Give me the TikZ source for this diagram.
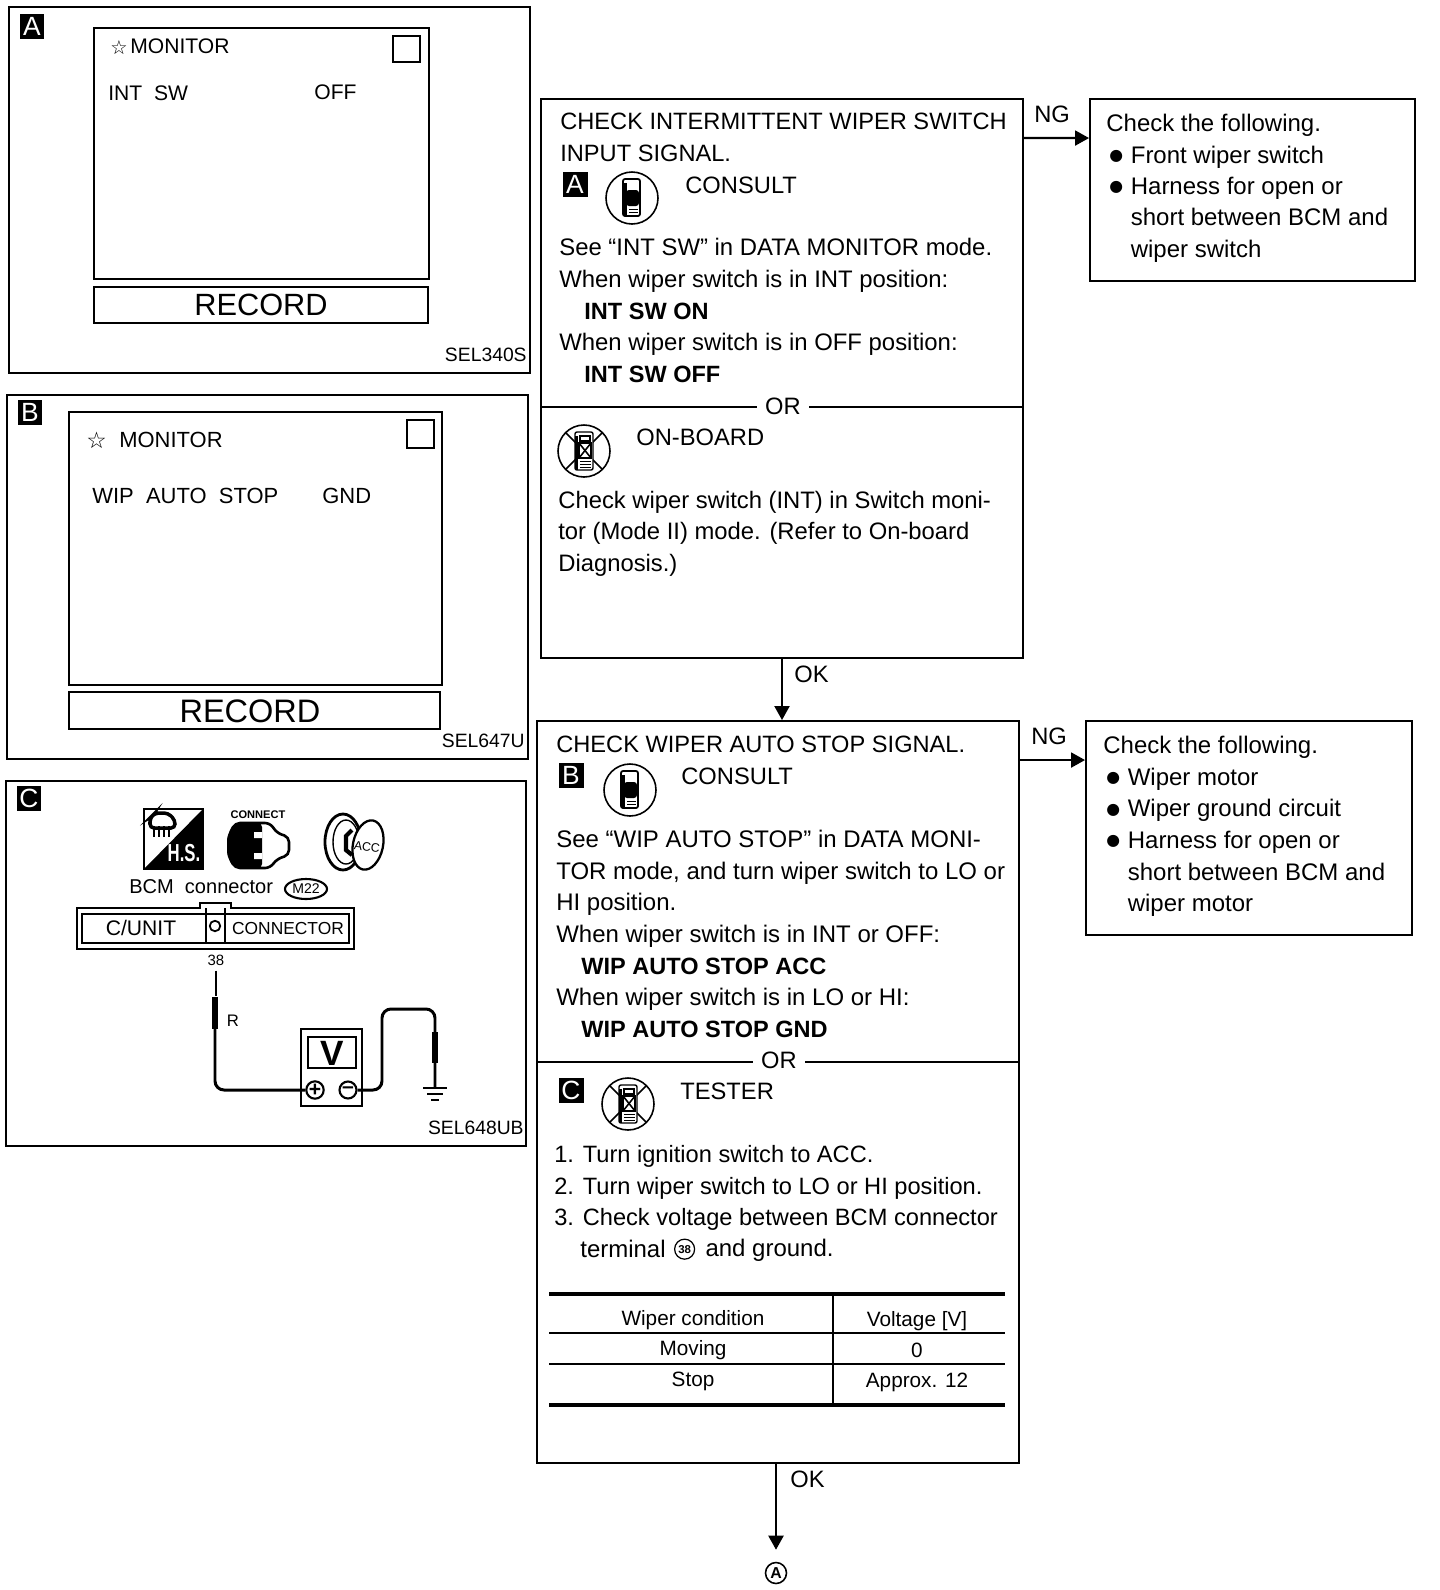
\documentclass[tikz,border=0pt]{standalone}
\usepackage{fontspec}
\setmainfont{Liberation Sans}
\newfontfamily\symfont{DejaVu Sans}
\usetikzlibrary{positioning,arrows.meta,calc,fit,shapes.geometric}
\tikzset{
  boxline/.style={draw=black,line width=1.1pt,inner sep=0pt,fill=white},
  thinbox/.style={draw=black,line width=0.8pt,inner sep=0pt},
  heavybox/.style={draw=black,line width=1.5pt,inner sep=0pt},
  txt/.style={anchor=north west,inner sep=0pt,align=left,font=\fontsize{13.65}{17.85}\selectfont},
  lbl/.style={anchor=west,inner sep=0pt,font=\fontsize{13.5}{16}\selectfont},
  scr/.style={anchor=west,inner sep=0pt,font=\fontsize{12}{14}\selectfont},
  scrb/.style={anchor=west,inner sep=0pt,font=\fontsize{12.5}{14}\selectfont},
  tbl/.style={inner sep=0pt,font=\fontsize{11.8}{13}\selectfont},
  code/.style={anchor=east,inner sep=0pt,font=\fontsize{11}{13}\selectfont},
  flow/.style={line width=1.2pt,-{Triangle[length=0.28cm,width=0.3cm]}},
  rec/.style={inner sep=0pt,font=\fontsize{18.5}{20}\selectfont},
  wire/.style={line width=1.7pt,rounded corners=0.18cm},
  probe/.style={line width=3.8pt},
}
\newcommand{\boxnode}[6][boxline]{%
  \coordinate (#2-a) at (#3,#4);
  \coordinate (#2-b) at (#5,#6);
  \node[#1,fit=(#2-a)(#2-b)] (#2) {};
}
\newcommand{\badge}[4]{%
  \node[fill=black,text=white,minimum size=0.5cm,inner sep=0pt,font=\fontsize{15}{15}\selectfont] (#1) at (#2,#3) {#4};
}
\newcommand{\bul}{\makebox[0.49cm][l]{\hspace{0.06cm}\raisebox{1.6pt}{\fontsize{9}{9}\symfont ●}}}
\newcommand{\boldline}[1]{\hspace*{0.5cm}{\fontsize{13.4}{18}\selectfont\bfseries #1}}
\newcommand{\consulticon}[2]{%
  \begin{scope}[shift={(#1,#2)}]
    \draw[line width=0.9pt] (0,0) circle (26);
    \draw[line width=1pt,rounded corners=0.04cm] (-9,-19) -- (8,-19) -- (8,18) -- (-9,18) -- cycle;
    \fill (-9,-15) rectangle (-5,18);
    \fill[rounded corners=0.06cm] (-6,-8) rectangle (7,8);
    \foreach \l in {11,14} {\draw[line width=0.5pt] (-3,\l) -- (6,\l);}
  \end{scope}
}
\newcommand{\crossedicon}[2]{%
  \begin{scope}[shift={(#1,#2)}]
    \draw[line width=0.9pt] (0,0) circle (26);
    \draw[line width=0.9pt] (-18.4,-18.4) -- (18.4,18.4);
    \draw[line width=0.9pt] (18.4,-18.4) -- (-18.4,18.4);
    \draw[line width=0.8pt,fill=white,rounded corners=0.04cm] (-9,-19) -- (9,-19) -- (9,19) -- (-9,19) -- cycle;
    \fill (-9,-15) rectangle (-6,19);
    \draw[line width=0.6pt] (-4,-15) rectangle (6,-10);
    \draw[line width=0.7pt] (-5,-8) rectangle (7,7);
    \draw[line width=0.9pt] (-5,-8) -- (7,7) (7,-8) -- (-5,7);
    \foreach \l in {10,13,16} {\draw[line width=0.5pt] (-4,\l) -- (7,\l);}
  \end{scope}
}
\begin{document}
\begin{tikzpicture}[x=0.02cm,y=-0.02cm]
  \path[use as bounding box] (0,0) rectangle (1440,1590);
  % panel A
  \boxnode{panela}{9}{7}{530}{373}
  \badge{bdga}{32}{26}{A}
  \boxnode[thinbox]{scra}{94}{28}{429}{279}
  \boxnode[thinbox]{reca}{94}{287}{428}{323}
  \boxnode{sqa}{393}{36}{420}{62}
  \node[rec,font=\fontsize{17.5}{20}\selectfont] (recta) at (261,305) {RECORD};
  \node[scr,font=\fontsize{11}{14}\symfont] (stara) at (110,48) {☆};
  \node[scr] (mona) at (130,46) {MONITOR};
  \node[scr] (intsw) at (108,93) {INT\ \ SW};
  \node[scr] (offa) at (314,92) {OFF};
  \node[code] (sela) at (527,355) {SEL340S};
  % panel B
  \boxnode{panelb}{7}{395}{528}{759}
  \badge{bdgb}{30}{412}{B}
  \boxnode[heavybox]{scrb}{69}{412}{442}{685}
  \boxnode[heavybox]{recb}{69}{692}{440}{729}
  \boxnode{sqb}{407}{420}{434}{448}
  \node[rec] (rectb) at (250,711) {RECORD};
  \node[scr,font=\fontsize{13}{14}\symfont] (starb) at (86,440) {☆};
  \node[scrb] (monb) at (119,440) {MONITOR};
  \node[scrb] (wipst) at (92,496) {WIP\ \ AUTO\ \ STOP};
  \node[scrb] (gndb) at (322,496) {GND};
  \node[code] (selb) at (525,741) {SEL647U};
  % panel C
  \boxnode{panelc}{6}{781}{526}{1146}
  \badge{bdgc}{29}{798}{C}
  % hs icon
  \draw[line width=0.9pt] (144,809) rectangle (203,869);
  \fill (203,809) -- (203,869) -- (144,869) -- cycle;
  \draw[line width=2pt,rounded corners=0.08cm] (150,818) -- (155,813) -- (168,813) -- (175,820) -- (175,828) -- (150,828) -- cycle;
  \foreach \l in {154,159,164,169} {\draw[line width=1pt] (\l,826) -- (\l,837);}
  \node[inner sep=0pt,text=white,font=\fontsize{14}{14}\bfseries\selectfont] (hstxt) at (184,853) {\scalebox{0.68}[1]{H.S.}};
  % connect icon
  \node[inner sep=0pt,font=\fontsize{6.3}{7}\bfseries\selectfont] (cnct) at (258,815) {CONNECT};
  \draw[line width=1.5pt,fill=white,rounded corners=0.1cm] (229,835) -- (235,823) -- (270,823) -- (277,833) -- (289,837) -- (289,855) -- (277,859) -- (270,868) -- (235,868) -- (229,857) -- cycle;
  \fill[rounded corners=0.08cm] (227,836) -- (235,823) -- (262,823) -- (262,868) -- (235,868) -- (227,856) -- cycle;
  \fill[white] (254,832) rectangle (262,838) (254,853) rectangle (262,859);
  % key icon
  \draw[line width=1.6pt] (343,842) ellipse (18 and 28);
  \draw[line width=0.8pt] (346,842) ellipse (13 and 22);
  \draw[line width=2.4pt] (352,830) -- (346,836) -- (346,850) -- (352,855);
  \draw[line width=1.3pt,fill=white,rotate around={-12:(368,845)}] (368,845) ellipse (15 and 25);
  \node[inner sep=0pt,rotate=-8,font=\fontsize{7}{9}\selectfont] (acckey) at (367,847) {ACC};
  % bcm connector
  \node[lbl,font=\fontsize{11.4}{13}\selectfont] (bcm) at (129,887) {BCM\ \ connector};
  \node[ellipse,draw,line width=1.2pt,inner sep=0pt,minimum width=0.84cm,minimum height=0.4cm,font=\fontsize{8}{9}\selectfont] (mconn) at (306,889) {M22};
  \draw[line width=1.4pt] (77,908) -- (200,908) -- (200,903) -- (231,903) -- (231,908) -- (354,908) -- (354,949) -- (77,949) -- cycle;
  \boxnode[heavybox]{inner}{82}{914}{349}{943}
  \draw[line width=1.6pt] (206,908) -- (206,943) (225,908) -- (225,943);
  \node[circle,draw,line width=1pt,minimum size=0.21cm,inner sep=0pt] (pinc) at (215,926) {};
  \node[scr,anchor=center] (cunit) at (141,928) {C/UNIT};
  \node[scr,anchor=center,font=\fontsize{9.9}{13}\selectfont] (cntr) at (288,928) {CONNECTOR};
  \node[inner sep=0pt,font=\fontsize{8.5}{10}\selectfont] (pin) at (216,960) {38};
  % meter
  \boxnode{meter}{301}{1029}{362}{1106}
  \boxnode[heavybox]{vscr}{308}{1037}{356}{1068}
  \node[inner sep=0pt,font=\fontsize{20}{20}\bfseries\selectfont] (vtxt) at (332,1053) {V};
  \node[circle,draw,line width=1.2pt,minimum size=0.34cm,inner sep=0pt,font=\fontsize{12}{12}\bfseries\selectfont] (plus) at (315,1090) {+};
  \node[circle,draw,line width=1.2pt,minimum size=0.34cm,inner sep=0pt,font=\fontsize{12}{12}\bfseries\selectfont] (minus) at (348,1090) {--};
  % wires
  \coordinate (gnda) at (435,1088);
  \draw[line width=0.9pt] (pin.south) ++(0,5) -- ++(0,25);
  \draw[wire] (215,997) -- (215,1090) -- (plus.west);
  \draw[probe] (215,997) -- (215,1029);
  \node[inner sep=0pt,font=\fontsize{9.5}{10}\selectfont] (rwire) at (233,1021) {R};
  \draw[wire] (minus.east) -- (382,1090) -- (382,1009) -- (435,1009) -- (gnda);
  \draw[probe] (435,1032) -- (435,1063);
  \draw[line width=1.4pt] (423,1088) -- (447,1088);
  \draw[line width=1.4pt] (427,1094) -- (443,1094);
  \draw[line width=1.4pt] (431,1100) -- (439,1100);
  \node[code] (selc) at (524,1128) {SEL648UB};
  % step boxes
  \boxnode{stepone}{541}{99}{1023}{658}
  \boxnode{ngone}{1090}{99}{1415}{281}
  \boxnode{steptwo}{537}{721}{1019}{1463}
  \boxnode{ngtwo}{1086}{721}{1412}{935}
  % connectors
  \draw[flow] ($(stepone.north east)+(0,40)$) -- ($(ngone.north west)+(0,40)$);
  \draw[flow] ($(steptwo.north east)+(0,40)$) -- ($(ngtwo.north west)+(0,40)$);
  \draw[flow] (stepone.south) -- (stepone.south |- steptwo.north);
  \node[circle,draw,line width=0.9pt,inner sep=0pt,minimum size=0.42cm,font=\fontsize{9}{9}\bfseries\selectfont] (enda) at (776,1573) {A};
  \draw[flow,shorten >=0.24cm] (steptwo.south -| enda) -- (enda.north);
  \node[lbl] (ngonel) at (1034,114) {NG};
  \node[lbl] (ngtwol) at (1031,736) {NG};
  \node[lbl] (okone) at (794,674) {OK};
  \node[lbl] (oktwo) at (790,1479) {OK};
  % step one text
  \node[txt,font=\fontsize{13.45}{17.85}\selectfont] (chkone) at (560,113) {CHECK INTERMITTENT WIPER SWITCH\\INPUT SIGNAL.};
  \badge{bdgd}{575}{184}{A}
  \consulticon{632}{198}
  \node[lbl] (conone) at (685,185) {CONSULT};
  \node[txt,font=\fontsize{13.6}{18.05}\selectfont] (seeone) at (559,238) {See ``INT SW'' in DATA MONITOR mode.\\
    When wiper switch is in INT position:\\
    \boldline{INT SW ON}\\
    When wiper switch is in OFF position:\\
    \boldline{INT SW OFF}};
  \draw[line width=1.1pt] (stepone.west |- 0,407) -- (stepone.east |- 0,407);
  \node[lbl,anchor=center,fill=white,inner xsep=0.17cm] (orone) at (783,406) {OR};
  \crossedicon{584}{451}
  \node[lbl] (onboard) at (636,437) {ON-BOARD};
  \node[txt,font=\fontsize{13.55}{17.85}\selectfont] (onbd) at (558,491) {Check wiper switch (INT) in Switch moni-\\tor (Mode II) mode. (Refer to On-board\\Diagnosis.)};
  % step two text
  \node[txt,font=\fontsize{13.45}{17.85}\selectfont] (chktwo) at (556,736) {CHECK WIPER AUTO STOP SIGNAL.};
  \badge{bdge}{571}{775}{B}
  \consulticon{630}{790}
  \node[lbl] (contwo) at (681,776) {CONSULT};
  \node[txt,font=\fontsize{13.65}{18}\selectfont] (seetwo) at (556,830) {See ``WIP AUTO STOP'' in DATA MONI-\\
    TOR mode, and turn wiper switch to LO or\\
    HI position.\\
    When wiper switch is in INT or OFF:\\
    \boldline{WIP AUTO STOP ACC}\\
    When wiper switch is in LO or HI:\\
    \boldline{WIP AUTO STOP GND}};
  \draw[line width=1.1pt] (steptwo.west |- 0,1062) -- (steptwo.east |- 0,1062);
  \node[lbl,anchor=center,fill=white,inner xsep=0.17cm] (ortwo) at (779,1060) {OR};
  \badge{bdgf}{571}{1090}{C}
  \crossedicon{628}{1104}
  \node[lbl] (tester) at (680,1091) {TESTER};
  \node[txt,font=\fontsize{13.45}{17.95}\selectfont] (steps) at (554,1145) {1. Turn ignition switch to ACC.\\
    2. Turn wiper switch to LO or HI position.\\
    3. Check voltage between BCM connector};
  \node[txt] (termtxt) at (580,1240) {terminal};
  \node[circle,draw,line width=0.7pt,inner sep=0pt,minimum size=0.4cm,font=\fontsize{6.5}{7}\bfseries\selectfont,right=0.16cm of termtxt] (termpin) {38};
  \node[txt,anchor=west,right=0.2cm of termpin,yshift=-0.03cm] (termend) {and ground.};
  % table
  \draw[line width=2pt] (549,1294) -- (1005,1294);
  \draw[line width=1.1pt] (549,1333) -- (1005,1333);
  \draw[line width=1.1pt] (549,1364) -- (1005,1364);
  \draw[line width=2pt] (549,1405) -- (1005,1405);
  \draw[line width=1.4pt] (833,1294) -- (833,1405);
  \node[tbl] (wc) at (693,1320) {Wiper condition};
  \node[tbl] (vv) at (917,1321) {Voltage [V]};
  \node[tbl] (mv) at (693,1350) {Moving};
  \node[tbl] (zr) at (917,1350) {0};
  \node[tbl] (st) at (693,1381) {Stop};
  \node[tbl] (ap) at (917,1382) {Approx. 12};
  % ng lists
  \node[txt] (listone) at (1106,114) {Check the following.\\
    \bul Front wiper switch\\
    \bul Harness for open or\\
    \hspace*{0.49cm}short between BCM and\\
    \hspace*{0.49cm}wiper switch};
  \node[txt,font=\fontsize{13.65}{18}\selectfont] (listtwo) at (1103,736) {Check the following.\\
    \bul Wiper motor\\
    \bul Wiper ground circuit\\
    \bul Harness for open or\\
    \hspace*{0.49cm}short between BCM and\\
    \hspace*{0.49cm}wiper motor};
\end{tikzpicture}
\end{document}
